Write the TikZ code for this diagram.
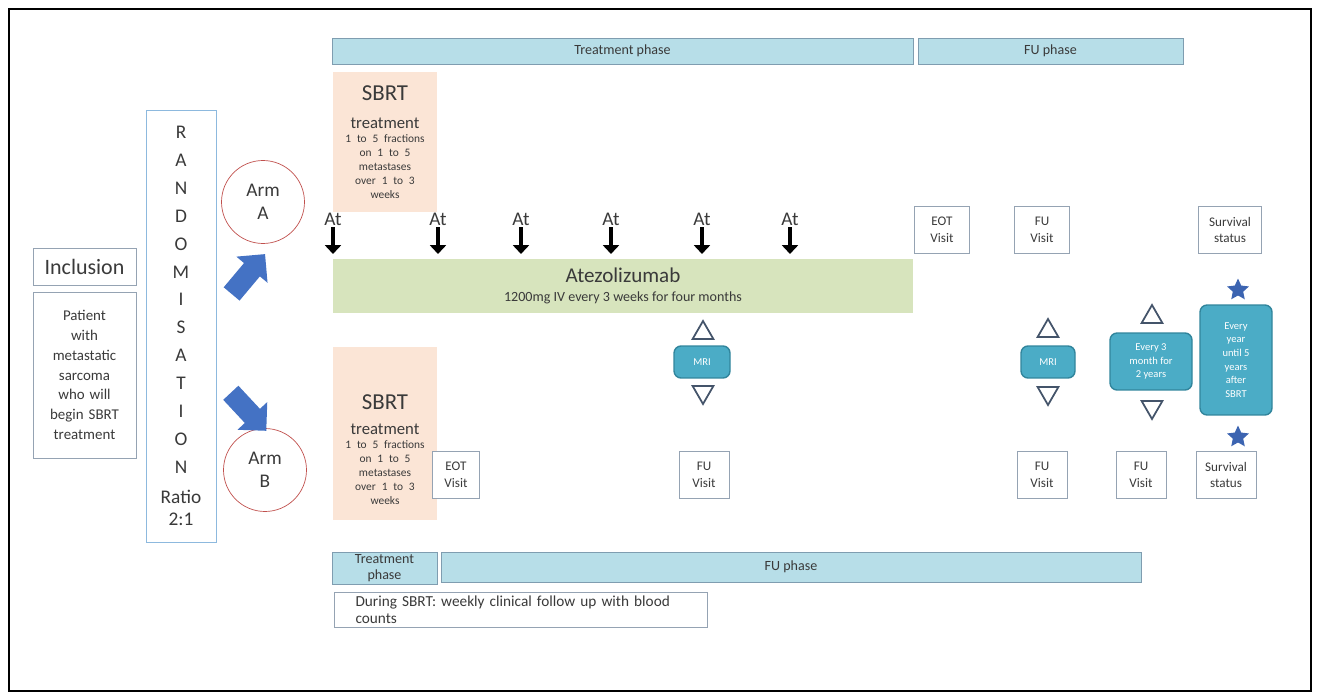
\documentclass[tikz,border=0pt]{standalone}
\usepackage{fontspec}
\setmainfont{Carlito}
\usetikzlibrary{shapes.geometric,shapes.arrows,arrows.meta}
\definecolor{phasefill}{HTML}{B7DEE8}
\definecolor{phaseline}{HTML}{7F9DB0}
\definecolor{peach}{HTML}{FBE5D6}
\definecolor{atezogreen}{HTML}{D7E4BD}
\definecolor{boxline}{HTML}{95A3B3}
\definecolor{randline}{HTML}{8DB9DE}
\definecolor{mrifill}{HTML}{4BACC6}
\definecolor{mriline}{HTML}{31859C}
\definecolor{triline}{HTML}{44546A}
\definecolor{armred}{HTML}{C0504D}
\definecolor{arrowblue}{HTML}{4472C4}
\definecolor{starblue}{HTML}{3C64B1}
\definecolor{darktext}{HTML}{3A3A3A}
\begin{document}
\begin{tikzpicture}[x=0.02cm,y=-0.02cm,
  phase/.style={draw=phaseline,fill=phasefill,inner sep=0pt,align=center,text=darktext,font=\fontsize{8}{9}\selectfont},
  sbrt/.style={fill=peach,inner sep=0pt,minimum width=2.08cm,text width=2cm,align=center,text=darktext},
  plainbox/.style={draw=boxline,fill=white,inner sep=0pt,align=center,text=darktext},
  visit/.style={plainbox,minimum height=0.95cm,font=\fontsize{7.5}{9.5}\selectfont},
  mri/.style={draw=mriline,fill=mrifill,rounded corners=4pt,line width=0.8pt,inner sep=0pt,text=white,align=center,font=\fontsize{6}{7.8}\selectfont},
  tri/.style={regular polygon,regular polygon sides=3,draw=triline,fill=white,line width=1pt,minimum size=0.48cm,inner sep=0pt},
  tridown/.style={tri,shape border rotate=180},
  bluestar/.style={star,star points=5,star point ratio=2.1,fill=starblue,minimum size=0.46cm,inner sep=0pt},
  arm/.style={circle,draw=armred,minimum size=1.66cm,inner sep=0pt,align=center,text=darktext,font=\fontsize{11}{13}\selectfont},
  bigarrow/.style={single arrow,fill=arrowblue,minimum height=1.04cm,minimum width=0.8cm,single arrow head extend=0.2cm,inner xsep=0pt,inner ysep=0.2cm},
  atarrow/.style={-{Triangle[length=5pt,width=9pt]},line width=2pt}]
\useasboundingbox (0,0) rectangle (1319,699);
\draw[line width=1.2pt] (9,9) rectangle (1311,691);

\node[phase,minimum width=11.62cm,minimum height=0.52cm] (treatA) at (622.5,51) {Treatment phase};
\node[phase,minimum width=5.3cm,minimum height=0.52cm] (fuA) at (1050.5,51) {FU phase};

\node[plainbox,minimum width=2.06cm,minimum height=0.74cm,font=\fontsize{12.5}{14}\selectfont] (incl) at (84.5,266.5) {Inclusion};
\node[plainbox,minimum width=2.06cm,minimum height=3.32cm,text width=1.9cm,font=\fontsize{8.5}{11.3}\selectfont] (patient) at (84.5,375) {Patient\\with\\metastatic\\sarcoma\\who will\\begin SBRT\\treatment};

\node[plainbox,draw=randline,minimum width=1.4cm,minimum height=8.64cm,text width=1.2cm,font=\fontsize{11}{15.9}\selectfont] (rando) at (181,326) {R\\A\\N\\D\\O\\M\\I\\S\\A\\T\\I\\O\\N\\[1pt]Ratio\\[-3pt]2:1};

\node[arm] (armA) at (263,202) {Arm\\A};
\node[arm] (armB) at (265,470) {Arm\\B};
\node[bigarrow,rotate=50] (toA) at (245,278) {};
\node[bigarrow,rotate=-47] (toB) at (245,408) {};

\node[sbrt,minimum height=2.8cm] (sbrtA) at (385,142) {{\fontsize{13}{15}\selectfont SBRT\par}\vspace{5pt}{\fontsize{9.5}{11}\selectfont treatment\par}{\fontsize{6.5}{8}\selectfont 1 to 5 fractions\\on 1 to 5\\metastases\\over 1 to 3\\weeks\par}};
\node[sbrt,minimum height=3.46cm] (sbrtB) at (385,433.5) {{\fontsize{13}{15}\selectfont\rule{0pt}{27pt}SBRT\par}\vspace{3pt}{\fontsize{9.5}{11}\selectfont treatment\par}{\fontsize{6.5}{8}\selectfont 1 to 5 fractions\\on 1 to 5\\metastases\\over 1 to 3\\weeks\par}};

\foreach \x [count=\i] in {333,438,521,611,702,790} {
  \node[text=darktext,font=\fontsize{11}{13}\selectfont,inner sep=1pt] (at\i) at (\x,219) {At};
  \coordinate (atend\i) at (\x,254);
  \draw[atarrow] (at\i.south) -- (atend\i);
}

\node[fill=atezogreen,minimum width=11.6cm,minimum height=1.08cm,align=center,text=darktext] (atezo) at (623,286) {{\fontsize{12}{14}\selectfont Atezolizumab}\\[-1pt]{\fontsize{8}{9}\selectfont 1200mg IV every 3 weeks for four months}};

\node[visit,minimum width=1.1cm] (eotA) at (942,230) {EOT\\Visit};
\node[visit,minimum width=1.1cm] (fuvA) at (1042,230) {FU\\Visit};
\node[visit,minimum width=1.25cm] (survA) at (1230,230) {Survival\\status};

\node[tri] (up1) at (703,333) {};
\node[mri,minimum width=1.12cm,minimum height=0.64cm] (mri1) at (702,362) {MRI};
\node[tridown] (dn1) at (703,392) {};
\node[tri] (up2) at (1048,331) {};
\node[mri,minimum width=1.08cm,minimum height=0.64cm] (mri2) at (1048,362) {MRI};
\node[tridown] (dn2) at (1048,393) {};
\node[tri] (up3) at (1152,317) {};
\node[mri,minimum width=1.64cm,minimum height=1.14cm] (mri3) at (1151,361.5) {Every 3\\month for\\2 years};
\node[tridown] (dn3) at (1152,407) {};
\node[bluestar] (starup) at (1238,290) {};
\node[mri,minimum width=1.44cm,minimum height=2.2cm] (mri4) at (1236,360) {Every\\year\\until 5\\years\\after\\SBRT};
\node[bluestar] (stardn) at (1238,437) {};

\node[visit,minimum width=0.95cm] (eotB) at (456,475) {EOT\\Visit};
\node[visit,minimum width=1.0cm] (fuv1) at (704,475) {FU\\Visit};
\node[visit,minimum width=1.0cm] (fuv2) at (1042,475) {FU\\Visit};
\node[visit,minimum width=1.0cm] (fuv3) at (1141,475) {FU\\Visit};
\node[visit,minimum width=1.2cm] (survB) at (1226,475) {Survival\\status};

\node[phase,minimum width=2.1cm,minimum height=0.64cm] (treatB) at (384.5,568) {Treatment\\phase};
\node[phase,minimum width=14cm,minimum height=0.6cm] (fuB) at (791,567) {FU phase};
\node[plainbox,minimum width=7.46cm,minimum height=0.7cm,text width=6.6cm,align=left,font=\fontsize{8.7}{9.5}\selectfont] (during) at (520.5,609.5) {During SBRT: weekly clinical follow up with blood\\counts};
\end{tikzpicture}
\end{document}
